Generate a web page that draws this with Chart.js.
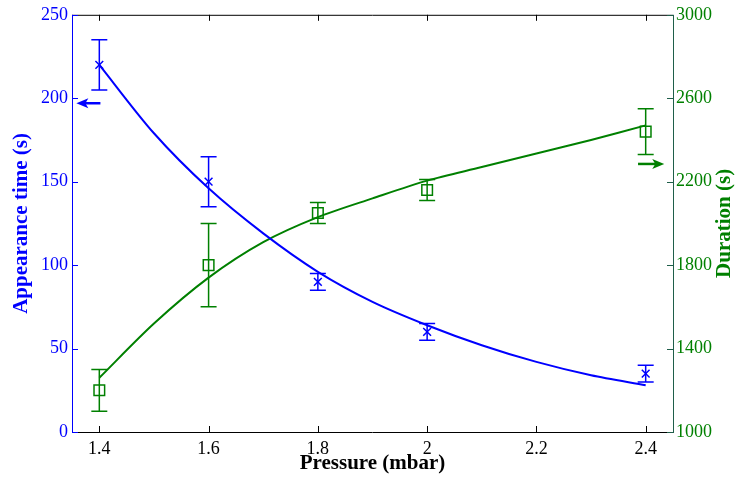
<!DOCTYPE html>
<html>
<head>
<meta charset="utf-8">
<script src="https://cdn.jsdelivr.net/npm/chart.js@4.4.0/dist/chart.umd.min.js"></script>
<style>
html,body{margin:0;padding:0;background:#fff;}
#wrap{width:737px;height:480px;position:relative;}
</style>
</head>
<body>
<div id="wrap"><canvas id="c" width="737" height="480"></canvas></div>
<script>
// ---- data ----
const pressure = [1.4, 1.6, 1.8, 2.0, 2.4];
const appearance = [220, 150, 90, 60, 35];
const appearanceErr = [15, 15, 5, 5, 5];
const duration = [1200, 1800, 2050, 2160, 2440];
const durationErr = [100, 200, 50, 50, 110];

const fitX = [1.4, 1.5, 1.6, 1.7, 1.8, 1.9, 2.0, 2.1, 2.2, 2.3, 2.4];
const appearanceFit = [220, 179, 146, 119, 96, 78, 64, 52, 42, 34, 28];
const durationFit = [1260, 1520, 1740, 1910, 2030, 2120, 2205, 2270, 2335, 2400, 2470];

const xTicks = [1.4, 1.6, 1.8, 2.0, 2.2, 2.4];
const leftTicks = [0, 50, 100, 150, 200, 250];
const rightTicks = [1000, 1400, 1800, 2200, 2600, 3000];

const BLUE = '#0000ff';
const GREEN = '#008000';
const FONT = '"Liberation Serif", "Times New Roman", serif';

const pts = (xs, ys) => xs.map((x, i) => ({x: x, y: ys[i]}));

const errorBarPlugin = {
  id: 'errorBars',
  afterDatasetsDraw(chart) {
    const ctx = chart.ctx;
    const xs = chart.scales.x;
    const sets = [
      {vals: appearance, err: appearanceErr, scale: chart.scales.yL, color: BLUE},
      {vals: duration, err: durationErr, scale: chart.scales.yR, color: GREEN}
    ];
    ctx.save();
    ctx.lineWidth = 1.5;
    sets.forEach(s => {
      ctx.strokeStyle = s.color;
      pressure.forEach((p, i) => {
        const x = xs.getPixelForValue(p);
        const y1 = s.scale.getPixelForValue(s.vals[i] + s.err[i]);
        const y2 = s.scale.getPixelForValue(s.vals[i] - s.err[i]);
        ctx.beginPath();
        ctx.moveTo(x, y1); ctx.lineTo(x, y2);
        ctx.moveTo(x - 8, y1); ctx.lineTo(x + 8, y1);
        ctx.moveTo(x - 8, y2); ctx.lineTo(x + 8, y2);
        ctx.stroke();
      });
    });
    ctx.restore();
  }
};

const framePlugin = {
  id: 'frame',
  afterDraw(chart) {
    const ctx = chart.ctx;
    const a = chart.chartArea;
    const xs = chart.scales.x, yL = chart.scales.yL, yR = chart.scales.yR;
    ctx.save();
    // frame
    ctx.lineWidth = 1;
    ctx.strokeStyle = '#000';
    ctx.beginPath();
    ctx.moveTo(a.left, a.top + 0.5); ctx.lineTo(a.right, a.top + 0.5);
    ctx.moveTo(a.left, a.bottom + 0.5); ctx.lineTo(a.right, a.bottom + 0.5);
    ctx.stroke();
    ctx.strokeStyle = BLUE;
    ctx.beginPath();
    ctx.moveTo(a.left + 0.5, a.top); ctx.lineTo(a.left + 0.5, a.bottom + 1);
    ctx.stroke();
    ctx.strokeStyle = '#1f5e4a';
    ctx.beginPath();
    ctx.moveTo(a.right + 0.5, a.top); ctx.lineTo(a.right + 0.5, a.bottom + 1);
    ctx.stroke();
    // inward ticks
    const tl = 6;
    ctx.strokeStyle = '#000';
    ctx.beginPath();
    xTicks.forEach(v => {
      const x = Math.round(xs.getPixelForValue(v)) + 0.5;
      ctx.moveTo(x, a.bottom); ctx.lineTo(x, a.bottom - tl);
      ctx.moveTo(x, a.top); ctx.lineTo(x, a.top + tl);
    });
    ctx.stroke();
    ctx.strokeStyle = BLUE;
    ctx.beginPath();
    leftTicks.forEach(v => {
      const y = Math.round(yL.getPixelForValue(v)) + 0.5;
      ctx.moveTo(a.left, y); ctx.lineTo(a.left + tl, y);
    });
    ctx.stroke();
    ctx.strokeStyle = '#1f5e4a';
    ctx.beginPath();
    rightTicks.forEach(v => {
      const y = Math.round(yR.getPixelForValue(v)) + 0.5;
      ctx.moveTo(a.right, y); ctx.lineTo(a.right - tl, y);
    });
    ctx.stroke();
    // arrows
    const arrow = (x1, x2, y, color) => {
      const px1 = xs.getPixelForValue(x1), px2 = xs.getPixelForValue(x2);
      const dir = Math.sign(px2 - px1);
      ctx.strokeStyle = color; ctx.fillStyle = color; ctx.lineWidth = 2.5;
      ctx.beginPath(); ctx.moveTo(px1, y); ctx.lineTo(px2 - dir * 8, y); ctx.stroke();
      ctx.beginPath();
      ctx.moveTo(px2, y);
      ctx.lineTo(px2 - dir * 12, y - 5);
      ctx.lineTo(px2 - dir * 9, y);
      ctx.lineTo(px2 - dir * 12, y + 5);
      ctx.closePath(); ctx.fill();
    };
    arrow(1.402, 1.358, yL.getPixelForValue(197), BLUE);
    arrow(2.386, 2.434, yR.getPixelForValue(2285), GREEN);
    // titles
    ctx.font = 'bold 21px ' + FONT;
    ctx.textAlign = 'center';
    ctx.textBaseline = 'middle';
    ctx.fillStyle = '#000';
    ctx.fillText('Pressure (mbar)', (a.left + a.right) / 2, 464);
    const cy = (a.top + a.bottom) / 2;
    ctx.save();
    ctx.translate(22, cy); ctx.rotate(-Math.PI / 2);
    ctx.fillStyle = BLUE;
    ctx.fillText('Appearance time (s)', 0, 0);
    ctx.restore();
    ctx.save();
    ctx.translate(725, cy); ctx.rotate(-Math.PI / 2);
    ctx.fillStyle = GREEN;
    ctx.fillText('Duration (s)', 0, 0);
    ctx.restore();
    ctx.restore();
  }
};

new Chart(document.getElementById('c'), {
  type: 'scatter',
  data: {
    datasets: [
      {data: pts(fitX, appearanceFit), yAxisID: 'yL', showLine: true, borderColor: BLUE, borderWidth: 2, pointRadius: 0, tension: 0.3, fill: false},
      {data: pts(fitX, durationFit), yAxisID: 'yR', showLine: true, borderColor: GREEN, borderWidth: 2, pointRadius: 0, tension: 0.3, fill: false},
      {data: pts(pressure, appearance), yAxisID: 'yL', showLine: false, pointStyle: 'crossRot', pointRadius: 5.5, borderColor: BLUE, borderWidth: 1.5, backgroundColor: 'transparent'},
      {data: pts(pressure, duration), yAxisID: 'yR', showLine: false, pointStyle: 'rect', pointRadius: 7.5, borderColor: GREEN, borderWidth: 1.5, backgroundColor: 'transparent'}
    ]
  },
  options: {
    responsive: false,
    animation: false,
    events: [],
    layout: {padding: {top: 10, left: 0, right: 0, bottom: 0}},
    plugins: {legend: {display: false}, tooltip: {enabled: false}},
    scales: {
      x: {
        type: 'linear', min: 1.35, max: 2.45,
        afterBuildTicks: s => { s.ticks = xTicks.map(v => ({value: v})); },
        afterFit: s => { s.height = 48; },
        grid: {display: false, drawTicks: false},
        border: {display: false},
        ticks: {color: '#000', font: {family: FONT, size: 18}, padding: 6, maxRotation: 0, callback: v => String(v)}
      },
      yL: {
        type: 'linear', position: 'left', min: 0, max: 250,
        afterBuildTicks: s => { s.ticks = leftTicks.map(v => ({value: v})); },
        afterFit: s => { s.width = 72; },
        grid: {display: false, drawTicks: false},
        border: {display: false},
        ticks: {color: BLUE, font: {family: FONT, size: 18}, padding: 4, callback: v => String(v)}
      },
      yR: {
        type: 'linear', position: 'right', min: 1000, max: 3000,
        afterBuildTicks: s => { s.ticks = rightTicks.map(v => ({value: v})); },
        afterFit: s => { s.width = 64; },
        grid: {display: false, drawTicks: false},
        border: {display: false},
        ticks: {color: GREEN, font: {family: FONT, size: 18}, padding: 3, callback: v => String(v)}
      }
    }
  },
  plugins: [errorBarPlugin, framePlugin]
});
</script>
</body>
</html>
